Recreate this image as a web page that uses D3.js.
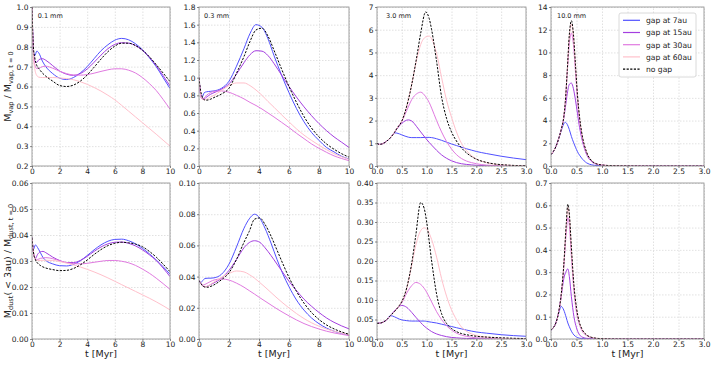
<!DOCTYPE html>
<html>
<head>
<meta charset="utf-8">
<script src="https://cdn.jsdelivr.net/npm/d3@7"></script>
<style>
  body { margin: 0; background: #fff; }
  svg { font-family: "DejaVu Sans", sans-serif; }
</style>
</head>
<body>
<svg id="chart" width="719" height="366"></svg>
<script>
// ---- data: 0.1 mm, vapour ----
var tVap01 = [0, 0.1, 0.2, 0.35, 0.5, 0.75, 1, 1.5, 2, 2.5, 3, 3.5, 4, 4.5, 5, 5.5, 6, 6.5, 7, 7.5, 8, 8.5, 9, 9.5, 10];
var vap01Gap7 = [1.0, 0.78, 0.755, 0.778, 0.768, 0.728, 0.70, 0.665, 0.642, 0.635, 0.645, 0.668, 0.70, 0.74, 0.78, 0.81, 0.833, 0.842, 0.835, 0.815, 0.785, 0.745, 0.70, 0.645, 0.59];
var vap01Gap15 = [1.0, 0.78, 0.725, 0.722, 0.735, 0.74, 0.732, 0.705, 0.678, 0.662, 0.656, 0.665, 0.688, 0.722, 0.758, 0.79, 0.812, 0.82, 0.818, 0.806, 0.782, 0.748, 0.705, 0.655, 0.603];
var vap01Gap30 = [1.0, 0.77, 0.71, 0.69, 0.692, 0.70, 0.702, 0.692, 0.677, 0.665, 0.658, 0.657, 0.66, 0.667, 0.676, 0.684, 0.689, 0.689, 0.682, 0.668, 0.645, 0.615, 0.58, 0.535, 0.486];
var vap01Gap60 = [1.0, 0.76, 0.69, 0.655, 0.647, 0.645, 0.645, 0.645, 0.643, 0.64, 0.634, 0.624, 0.611, 0.595, 0.577, 0.556, 0.533, 0.505, 0.476, 0.447, 0.418, 0.389, 0.36, 0.33, 0.30];
var vap01NoGap = [1.0, 0.80, 0.745, 0.705, 0.69, 0.668, 0.652, 0.627, 0.605, 0.60, 0.607, 0.627, 0.658, 0.697, 0.738, 0.775, 0.803, 0.818, 0.818, 0.806, 0.783, 0.75, 0.71, 0.668, 0.625];

// ---- data: 0.3 mm, vapour ----
var tVap03 = [0, 0.1, 0.2, 0.35, 0.5, 0.75, 1, 1.5, 2, 2.5, 3, 3.4, 3.8, 4.2, 4.6, 5, 5.5, 6, 6.5, 7, 7.5, 8, 8.5, 9, 9.5, 10];
var vap03Gap7 = [1.0, 0.82, 0.78, 0.83, 0.84, 0.845, 0.85, 0.88, 0.96, 1.13, 1.33, 1.50, 1.60, 1.57, 1.44, 1.25, 1.03, 0.83, 0.65, 0.50, 0.38, 0.29, 0.21, 0.16, 0.11, 0.08];
var vap03Gap15 = [1.0, 0.82, 0.76, 0.76, 0.78, 0.81, 0.83, 0.87, 0.93, 1.04, 1.17, 1.26, 1.305, 1.30, 1.25, 1.16, 1.03, 0.90, 0.78, 0.67, 0.57, 0.48, 0.40, 0.33, 0.27, 0.21];
var vap03Gap30 = [1.0, 0.82, 0.76, 0.77, 0.80, 0.83, 0.845, 0.85, 0.835, 0.80, 0.76, 0.72, 0.685, 0.645, 0.60, 0.555, 0.495, 0.435, 0.37, 0.31, 0.25, 0.20, 0.155, 0.115, 0.085, 0.06];
var vap03Gap60 = [1.0, 0.82, 0.76, 0.75, 0.755, 0.78, 0.80, 0.855, 0.91, 0.94, 0.94, 0.91, 0.86, 0.80, 0.73, 0.665, 0.58, 0.50, 0.42, 0.35, 0.29, 0.235, 0.185, 0.14, 0.105, 0.075];
var vap03NoGap = [1.0, 0.86, 0.79, 0.75, 0.745, 0.755, 0.775, 0.815, 0.88, 1.05, 1.24, 1.41, 1.54, 1.56, 1.47, 1.31, 1.10, 0.90, 0.72, 0.56, 0.43, 0.33, 0.25, 0.19, 0.14, 0.10];

// ---- data: 3.0 mm, vapour ----
var tVap3 = [0, 0.05, 0.1, 0.2, 0.3, 0.35, 0.4, 0.5, 0.63, 0.7, 0.8, 0.88, 0.98, 1.05, 1.1, 1.2, 1.3, 1.4, 1.5, 1.6, 1.7, 1.8, 1.9, 2.0, 2.2, 2.5, 3.0];
var vap3Gap7 = [1.0, 0.95, 0.97, 1.1, 1.32, 1.46, 1.45, 1.37, 1.27, 1.25, 1.25, 1.25, 1.26, 1.26, 1.25, 1.2, 1.13, 1.05, 0.97, 0.9, 0.83, 0.76, 0.7, 0.64, 0.55, 0.43, 0.28];
var vap3Gap15 = [1.0, 0.95, 0.97, 1.1, 1.32, 1.47, 1.63, 1.88, 2.03, 1.98, 1.73, 1.5, 1.22, 1.04, 0.92, 0.69, 0.49, 0.34, 0.23, 0.15, 0.1, 0.07, 0.05, 0.03, 0.015, 0.005, 0.0];
var vap3Gap30 = [1.0, 0.95, 0.97, 1.1, 1.32, 1.47, 1.65, 1.97, 2.6, 2.93, 3.18, 3.25, 3.05, 2.8, 2.55, 2.0, 1.5, 1.08, 0.75, 0.5, 0.33, 0.22, 0.15, 0.1, 0.04, 0.01, 0.0];
var vap3Gap60 = [1.0, 0.95, 0.97, 1.1, 1.32, 1.47, 1.65, 1.98, 2.9, 3.6, 4.7, 5.35, 5.68, 5.72, 5.6, 4.95, 3.9, 2.9, 2.15, 1.5, 1.0, 0.68, 0.46, 0.31, 0.15, 0.05, 0.01];
var vap3NoGap = [1.0, 0.95, 0.97, 1.1, 1.32, 1.47, 1.65, 1.98, 2.9, 3.6, 4.8, 5.85, 6.78, 6.5, 6.0, 4.6, 3.05, 2.1, 1.5, 1.1, 0.8, 0.58, 0.42, 0.3, 0.16, 0.06, 0.01];

// ---- data: 10.0 mm, vapour ----
var tVap10 = [0, 0.05, 0.1, 0.15, 0.2, 0.25, 0.28, 0.32, 0.36, 0.4, 0.44, 0.48, 0.52, 0.56, 0.6, 0.7, 0.8, 0.9, 1.0, 1.2, 1.5, 2.0, 3.0];
var vap10Gap7 = [1.0, 1.3, 1.75, 2.4, 3.1, 3.7, 3.85, 3.65, 3.2, 2.6, 2.1, 1.65, 1.25, 0.95, 0.7, 0.27, 0.1, 0.04, 0.02, 0.005, 0, 0, 0];
var vap10Gap15 = [1.0, 1.3, 1.75, 2.4, 3.2, 4.2, 5.1, 6.4, 7.2, 7.3, 6.8, 5.8, 4.6, 3.4, 2.5, 1.0, 0.38, 0.15, 0.07, 0.02, 0.005, 0, 0];
var vap10Gap30 = [1.0, 1.3, 1.75, 2.4, 3.2, 4.3, 5.6, 8.3, 10.8, 11.7, 10.7, 8.3, 5.8, 4.0, 2.8, 1.1, 0.42, 0.17, 0.08, 0.03, 0.01, 0, 0];
var vap10Gap60 = [1.0, 1.3, 1.75, 2.4, 3.2, 4.3, 5.6, 8.5, 11.4, 12.5, 11.4, 8.8, 6.1, 4.2, 2.95, 1.18, 0.44, 0.18, 0.09, 0.03, 0.01, 0, 0];
var vap10NoGap = [1.0, 1.3, 1.75, 2.4, 3.2, 4.3, 5.6, 8.5, 11.6, 12.8, 11.6, 8.9, 6.2, 4.3, 3.0, 1.2, 0.45, 0.18, 0.09, 0.03, 0.01, 0, 0];

// ---- data: 0.1 mm, dust inside 3 au ----
var tDust01 = [0, 0.1, 0.25, 0.4, 0.6, 0.8, 1, 1.5, 2, 2.5, 3, 3.5, 4, 4.5, 5, 5.5, 6, 6.5, 7, 7.5, 8, 8.5, 9, 9.5, 10];
var dust01Gap7 = [0.039, 0.0345, 0.0362, 0.0352, 0.0333, 0.0313, 0.0302, 0.0289, 0.0282, 0.0281, 0.0287, 0.0301, 0.0321, 0.0343, 0.0362, 0.0376, 0.0383, 0.0384, 0.0378, 0.0366, 0.0349, 0.0328, 0.0304, 0.0278, 0.0249];
var dust01Gap15 = [0.039, 0.0335, 0.031, 0.0325, 0.0335, 0.0337, 0.0332, 0.0315, 0.0302, 0.0294, 0.0294, 0.0302, 0.0318, 0.0337, 0.0354, 0.0366, 0.0372, 0.0373, 0.0368, 0.0358, 0.0343, 0.0324, 0.0302, 0.0273, 0.024];
var dust01Gap30 = [0.039, 0.0335, 0.0308, 0.0306, 0.031, 0.0312, 0.0313, 0.0309, 0.0301, 0.0294, 0.029, 0.0289, 0.0291, 0.0295, 0.0299, 0.0302, 0.0302, 0.0299, 0.0293, 0.0283, 0.0269, 0.0253, 0.0234, 0.0213, 0.0191];
var dust01Gap60 = [0.039, 0.0335, 0.0306, 0.0302, 0.0302, 0.0303, 0.0303, 0.0302, 0.0298, 0.0292, 0.0285, 0.0277, 0.0268, 0.0258, 0.0247, 0.0235, 0.0222, 0.0209, 0.0196, 0.0183, 0.017, 0.0157, 0.0143, 0.0128, 0.0112];
var dust01NoGap = [0.039, 0.0335, 0.0305, 0.0292, 0.0283, 0.0277, 0.0273, 0.0267, 0.0263, 0.0264, 0.0271, 0.0285, 0.0304, 0.0325, 0.0344, 0.0359, 0.0368, 0.0372, 0.0370, 0.0365, 0.0355, 0.0337, 0.0315, 0.0288, 0.0259];

// ---- data: 0.3 mm, dust inside 3 au ----
var tDust03 = [0, 0.1, 0.25, 0.4, 0.6, 0.8, 1, 1.5, 2, 2.5, 3, 3.35, 3.7, 4.05, 4.4, 4.8, 5.2, 5.6, 6, 6.5, 7, 7.5, 8, 8.5, 9, 10];
var dust03Gap7 = [0.0375, 0.036, 0.0375, 0.0388, 0.039, 0.039, 0.0392, 0.0415, 0.048, 0.059, 0.071, 0.077, 0.080, 0.0775, 0.071, 0.0615, 0.051, 0.0415, 0.0335, 0.025, 0.0185, 0.0135, 0.0098, 0.007, 0.005, 0.0025];
var dust03Gap15 = [0.0375, 0.036, 0.034, 0.0335, 0.034, 0.035, 0.036, 0.039, 0.044, 0.051, 0.0585, 0.0618, 0.063, 0.062, 0.0585, 0.0535, 0.048, 0.0425, 0.037, 0.031, 0.0255, 0.021, 0.017, 0.0135, 0.0107, 0.0065];
var dust03Gap30 = [0.0375, 0.036, 0.0345, 0.035, 0.036, 0.037, 0.0378, 0.0385, 0.0378, 0.0358, 0.0332, 0.031, 0.0288, 0.0265, 0.0243, 0.0218, 0.0193, 0.017, 0.0148, 0.0122, 0.0099, 0.008, 0.0064, 0.005, 0.0039, 0.0022];
var dust03Gap60 = [0.0375, 0.036, 0.034, 0.0335, 0.034, 0.0352, 0.0365, 0.0395, 0.042, 0.0436, 0.043, 0.0413, 0.039, 0.0362, 0.0333, 0.0298, 0.0263, 0.023, 0.0199, 0.0163, 0.0131, 0.0104, 0.0082, 0.0064, 0.005, 0.0028];
var dust03NoGap = [0.0375, 0.036, 0.034, 0.0333, 0.0332, 0.0338, 0.0347, 0.038, 0.0425, 0.051, 0.062, 0.069, 0.0768, 0.0776, 0.0735, 0.066, 0.057, 0.048, 0.0395, 0.0305, 0.023, 0.017, 0.0125, 0.009, 0.0065, 0.003];

// ---- data: 3.0 mm, dust inside 3 au ----
var tDust3 = [0, 0.1, 0.2, 0.27, 0.35, 0.45, 0.5, 0.6, 0.7, 0.78, 0.88, 0.95, 1.0, 1.1, 1.2, 1.3, 1.4, 1.5, 1.6, 1.7, 1.8, 2.0, 2.2, 2.5, 3.0];
var dust3Gap7 = [0.04, 0.042, 0.05, 0.06, 0.057, 0.051, 0.049, 0.047, 0.046, 0.046, 0.046, 0.046, 0.045, 0.043, 0.041, 0.038, 0.035, 0.032, 0.029, 0.026, 0.023, 0.018, 0.015, 0.011, 0.007];
var dust3Gap15 = [0.04, 0.042, 0.05, 0.06, 0.072, 0.084, 0.086, 0.081, 0.068, 0.056, 0.042, 0.033, 0.028, 0.019, 0.013, 0.009, 0.006, 0.004, 0.003, 0.002, 0.0015, 0.001, 0.0005, 0, 0];
var dust3Gap30 = [0.04, 0.042, 0.05, 0.06, 0.07, 0.085, 0.093, 0.118, 0.137, 0.145, 0.14, 0.13, 0.12, 0.095, 0.07, 0.05, 0.034, 0.023, 0.015, 0.01, 0.007, 0.003, 0.002, 0.001, 0];
var dust3Gap60 = [0.04, 0.042, 0.05, 0.06, 0.07, 0.086, 0.096, 0.13, 0.19, 0.24, 0.278, 0.285, 0.282, 0.255, 0.21, 0.155, 0.11, 0.075, 0.05, 0.031, 0.02, 0.009, 0.005, 0.002, 0.001];
var dust3NoGap = [0.04, 0.042, 0.05, 0.06, 0.07, 0.086, 0.096, 0.132, 0.195, 0.265, 0.35, 0.335, 0.30, 0.20, 0.115, 0.065, 0.04, 0.027, 0.019, 0.014, 0.011, 0.007, 0.005, 0.003, 0.001];

// ---- data: 10.0 mm, dust inside 3 au ----
var tDust10 = [0, 0.05, 0.1, 0.15, 0.2, 0.25, 0.3, 0.33, 0.36, 0.4, 0.45, 0.5, 0.55, 0.6, 0.7, 0.8, 0.9, 1.0, 1.2, 1.5, 2.0, 3.0];
var dust10Gap7 = [0.04, 0.052, 0.075, 0.115, 0.146, 0.13, 0.095, 0.072, 0.055, 0.035, 0.018, 0.009, 0.004, 0.002, 0.0005, 0, 0, 0, 0, 0, 0, 0];
var dust10Gap15 = [0.04, 0.052, 0.075, 0.12, 0.19, 0.27, 0.305, 0.315, 0.28, 0.19, 0.1, 0.05, 0.022, 0.01, 0.003, 0.001, 0, 0, 0, 0, 0, 0];
var dust10Gap30 = [0.04, 0.052, 0.075, 0.12, 0.195, 0.32, 0.48, 0.545, 0.51, 0.37, 0.215, 0.12, 0.07, 0.04, 0.015, 0.006, 0.002, 0.001, 0, 0, 0, 0];
var dust10Gap60 = [0.04, 0.052, 0.075, 0.12, 0.195, 0.33, 0.51, 0.59, 0.55, 0.40, 0.235, 0.135, 0.078, 0.046, 0.017, 0.007, 0.003, 0.0015, 0.0005, 0, 0, 0];
var dust10NoGap = [0.04, 0.052, 0.075, 0.12, 0.2, 0.33, 0.52, 0.605, 0.56, 0.41, 0.24, 0.14, 0.08, 0.048, 0.018, 0.007, 0.003, 0.0015, 0.0005, 0, 0, 0];

// ---- labels & ticks ----
var seriesNames = ['gap at 7au', 'gap at 15au', 'gap at 30au', 'gap at 60au', 'no gap'];
var sizeTitles = ['0.1 mm', '0.3 mm', '3.0 mm', '10.0 mm'];
var xTicksLong = [0, 2, 4, 6, 8, 10];
var xTicksShort = [0, 0.5, 1, 1.5, 2, 2.5, 3];
var yTicksVap01 = [0.2, 0.3, 0.4, 0.5, 0.6, 0.7, 0.8, 0.9, 1.0];
var yTicksVap03 = [0, 0.2, 0.4, 0.6, 0.8, 1.0, 1.2, 1.4, 1.6, 1.8];
var yTicksVap3 = [0, 1, 2, 3, 4, 5, 6, 7];
var yTicksVap10 = [0, 2, 4, 6, 8, 10, 12, 14];
var yTicksDust01 = [0, 0.01, 0.02, 0.03, 0.04, 0.05, 0.06];
var yTicksDust03 = [0, 0.02, 0.04, 0.06, 0.08, 0.10];
var yTicksDust3 = [0, 0.05, 0.1, 0.15, 0.2, 0.25, 0.3, 0.35, 0.4];
var yTicksDust10 = [0, 0.1, 0.2, 0.3, 0.4, 0.5, 0.6, 0.7];

// ---- layout / style ----
var colors = ['#5050ff', '#a43ee0', '#e07ae0', '#ffc0cb', '#000000'];
var cols = [[32, 170], [199, 349], [377, 526], [551, 704]];
var rows = [[7, 166], [183, 339]];
var titleX = [37.7, 204, 386, 557];

var panels = [
  { r: 0, c: 0, t: tVap01, ys: [vap01Gap7, vap01Gap15, vap01Gap30, vap01Gap60, vap01NoGap], xd: [0, 10], yd: [0.2, 1.0], xt: xTicksLong, xf: 'd', yt: yTicksVap01, yf: '.1f' },
  { r: 0, c: 1, t: tVap03, ys: [vap03Gap7, vap03Gap15, vap03Gap30, vap03Gap60, vap03NoGap], xd: [0, 10], yd: [0, 1.8], xt: xTicksLong, xf: 'd', yt: yTicksVap03, yf: '.1f' },
  { r: 0, c: 2, t: tVap3, ys: [vap3Gap7, vap3Gap15, vap3Gap30, vap3Gap60, vap3NoGap], xd: [0, 3], yd: [0, 7], xt: xTicksShort, xf: '.1f', yt: yTicksVap3, yf: 'd' },
  { r: 0, c: 3, t: tVap10, ys: [vap10Gap7, vap10Gap15, vap10Gap30, vap10Gap60, vap10NoGap], xd: [0, 3], yd: [0, 14], xt: xTicksShort, xf: '.1f', yt: yTicksVap10, yf: 'd' },
  { r: 1, c: 0, t: tDust01, ys: [dust01Gap7, dust01Gap15, dust01Gap30, dust01Gap60, dust01NoGap], xd: [0, 10], yd: [0, 0.06], xt: xTicksLong, xf: 'd', yt: yTicksDust01, yf: '.2f' },
  { r: 1, c: 1, t: tDust03, ys: [dust03Gap7, dust03Gap15, dust03Gap30, dust03Gap60, dust03NoGap], xd: [0, 10], yd: [0, 0.10], xt: xTicksLong, xf: 'd', yt: yTicksDust03, yf: '.2f' },
  { r: 1, c: 2, t: tDust3, ys: [dust3Gap7, dust3Gap15, dust3Gap30, dust3Gap60, dust3NoGap], xd: [0, 3], yd: [0, 0.40], xt: xTicksShort, xf: '.1f', yt: yTicksDust3, yf: '.2f' },
  { r: 1, c: 3, t: tDust10, ys: [dust10Gap7, dust10Gap15, dust10Gap30, dust10Gap60, dust10NoGap], xd: [0, 3], yd: [0, 0.7], xt: xTicksShort, xf: '.1f', yt: yTicksDust10, yf: '.1f' }
];

var svg = d3.select('#chart');

panels.forEach(function(p, k) {
  var x0 = cols[p.c][0], x1 = cols[p.c][1];
  var y0 = rows[p.r][0], y1 = rows[p.r][1];
  var x = d3.scaleLinear().domain(p.xd).range([x0, x1]);
  var y = d3.scaleLinear().domain(p.yd).range([y1, y0]);

  // grid
  svg.append('g')
    .attr('class', 'grid')
    .attr('transform', 'translate(0,' + y1 + ')')
    .call(d3.axisBottom(x).tickValues(p.xt).tickSize(-(y1 - y0)).tickFormat(''))
    .call(function(g) { g.select('.domain').remove(); });
  svg.append('g')
    .attr('class', 'grid')
    .attr('transform', 'translate(' + x0 + ',0)')
    .call(d3.axisLeft(y).tickValues(p.yt).tickSize(-(x1 - x0)).tickFormat(''))
    .call(function(g) { g.select('.domain').remove(); });
  svg.selectAll('.grid line')
    .attr('stroke', '#d4d4d4')
    .attr('stroke-width', 0.7)
    .attr('stroke-dasharray', '1.5,1.5');

  // clip
  svg.append('clipPath').attr('id', 'clip' + k)
    .append('rect').attr('x', x0).attr('y', y0 - 1).attr('width', x1 - x0).attr('height', y1 - y0 + 1);

  // curves
  var line = d3.line()
    .x(function(d) { return x(d[0]); })
    .y(function(d) { return y(d[1]); })
    .curve(d3.curveMonotoneX);

  var g = svg.append('g').attr('clip-path', 'url(#clip' + k + ')');
  p.ys.forEach(function(vals, i) {
    var pts = p.t.map(function(tv, j) { return [tv, vals[j]]; });
    g.append('path')
      .attr('d', line(pts))
      .attr('fill', 'none')
      .attr('stroke', colors[i])
      .attr('stroke-width', 1)
      .attr('stroke-dasharray', i === 4 ? '2.2,1.4' : null);
  });

  // frame
  svg.append('rect')
    .attr('x', x0).attr('y', y0)
    .attr('width', x1 - x0).attr('height', y1 - y0)
    .attr('fill', 'none')
    .attr('stroke', '#8a8a8a')
    .attr('stroke-width', 0.8);

  // axes
  var ax = svg.append('g')
    .attr('transform', 'translate(0,' + y1 + ')')
    .call(d3.axisBottom(x).tickValues(p.xt).tickFormat(d3.format(p.xf)).tickSize(2).tickSizeOuter(0).tickPadding(1));
  var ay = svg.append('g')
    .attr('transform', 'translate(' + x0 + ',0)')
    .call(d3.axisLeft(y).tickValues(p.yt).tickFormat(d3.format(p.yf)).tickSize(2).tickSizeOuter(0).tickPadding(1.5));
  [ax, ay].forEach(function(a) {
    a.select('.domain').remove();
    a.selectAll('line').attr('stroke', '#555').attr('stroke-width', 0.7);
    a.selectAll('text').attr('font-size', '7.5px').attr('fill', '#222')
      .attr('font-family', '"DejaVu Sans", sans-serif');
  });

  // size title / x label
  if (p.r === 0) {
    svg.append('text')
      .attr('x', titleX[p.c]).attr('y', 18)
      .attr('font-size', '6.5px').attr('fill', '#222')
      .text(sizeTitles[p.c]);
  } else {
    svg.append('text')
      .attr('x', (x0 + x1) / 2).attr('y', 357)
      .attr('text-anchor', 'middle')
      .attr('font-size', '9.5px').attr('fill', '#222')
      .text('t [Myr]');
  }
});

// y labels
function yLabel(cy, parts) {
  var t = svg.append('text')
    .attr('transform', 'translate(11,' + cy + ') rotate(-90)')
    .attr('text-anchor', 'middle')
    .attr('font-size', '9.5px')
    .attr('fill', '#222');
  var shift = 0;
  parts.forEach(function(pt) {
    var want = pt.sub ? 2.2 : 0;
    t.append('tspan')
      .attr('dy', want - shift)
      .attr('font-size', pt.sub ? '6.6px' : '9.5px')
      .text(pt.s);
    shift = want;
  });
}
yLabel((rows[0][0] + rows[0][1]) / 2, [
  { s: 'M' }, { s: 'vap', sub: true }, { s: ' / M' }, { s: 'vap, t = 0', sub: true }
]);
yLabel((rows[1][0] + rows[1][1]) / 2, [
  { s: 'M' }, { s: 'dust', sub: true }, { s: '( < 3au) / M' }, { s: 'dust, t = 0', sub: true }
]);

// legend
var leg = svg.append('g').attr('transform', 'translate(619,13)');
leg.append('rect')
  .attr('width', 77).attr('height', 64).attr('rx', 2)
  .attr('fill', '#fff').attr('fill-opacity', 0.85)
  .attr('stroke', '#d0d0d0').attr('stroke-width', 0.8);
seriesNames.forEach(function(name, i) {
  var yy = 7.3 + i * 12.2;
  leg.append('line')
    .attr('x1', 4).attr('x2', 21).attr('y1', yy).attr('y2', yy)
    .attr('stroke', colors[i]).attr('stroke-width', 1.2)
    .attr('stroke-dasharray', i === 4 ? '2.2,1.4' : null);
  leg.append('text')
    .attr('x', 27).attr('y', yy + 2.8)
    .attr('font-size', '7.6px').attr('fill', '#222')
    .text(name);
});
</script>
</body>
</html>
